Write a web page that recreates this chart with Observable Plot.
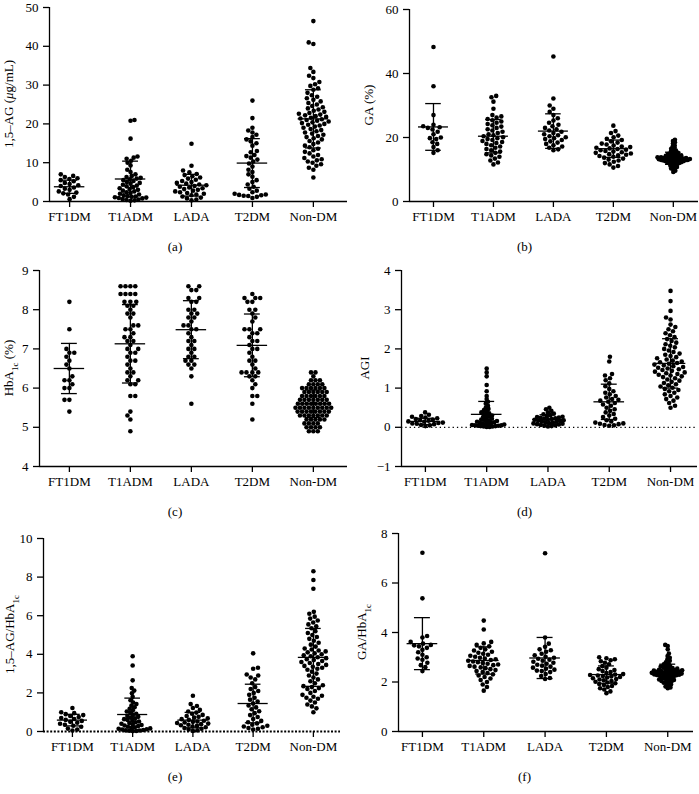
<!DOCTYPE html>
<html><head><meta charset="utf-8">
<script src="https://cdn.jsdelivr.net/npm/d3@7"></script>
<script src="https://cdn.jsdelivr.net/npm/@observablehq/plot@0.6"></script>
<style>
body{margin:0;background:#fff;font-family:"Liberation Serif",serif;color:#000;}
#grid{display:grid;grid-template-columns:350px 349px;grid-template-rows:265px 265px 264px;width:699px;}
.cell{position:relative;}
.cell svg{display:block;overflow:visible;}
.cell svg text{font-size:13px !important;font-family:"Liberation Serif",serif;}
.cap{position:absolute;top:238px;left:0;width:100%;text-align:center;font-size:13px;line-height:18px;}
</style></head><body><div id="grid"></div>
<script>
const groups = ["FT1DM", "T1ADM", "LADA", "T2DM", "Non-DM"];

// (a) 1,5-AG (µg/mL)
const ag = [
  [7.0, 6.6, 6.3, 6.0, 5.8, 5.5, 5.2, 4.8, 4.5, 4.2, 4.0, 3.6, 3.3, 3.0, 2.6, 2.3, 2.1, 1.8, 1.2, 0.6],
  [21.0, 20.8, 16.2, 11.6, 11.3, 11.0, 10.5, 10.0, 9.3, 8.2, 7.6, 7.0, 6.6, 6.3, 6.1, 5.9, 5.7, 5.5, 5.3, 5.0, 4.8, 4.6, 4.3, 4.1, 3.9, 3.7, 3.4, 3.2, 3.0, 2.8, 2.6, 2.4, 2.2, 2.0, 1.8, 1.6, 1.4, 1.3, 1.2, 1.1, 1.0, 0.9, 0.8, 0.6, 0.5, 0.4, 0.3, 0.2],
  [14.9, 9.2, 8.0, 7.5, 7.1, 6.8, 6.5, 6.2, 5.9, 5.6, 5.3, 5.0, 4.8, 4.6, 4.4, 4.2, 4.0, 3.8, 3.6, 3.4, 3.2, 3.0, 2.8, 2.6, 2.4, 2.2, 2.0, 1.8, 1.6, 1.3, 1.0, 0.8, 0.5, 0.3],
  [26.0, 21.5, 19.0, 18.3, 17.8, 17.2, 16.6, 16.0, 15.5, 15.0, 14.4, 13.0, 12.7, 12.0, 11.7, 11.3, 10.8, 10.3, 9.8, 9.0, 8.2, 7.6, 7.0, 6.4, 5.5, 5.0, 4.4, 3.8, 3.3, 2.8, 2.4, 2.0, 1.8, 1.7, 1.6, 1.5, 1.4, 1.2, 0.9],
  [46.5, 41.0, 40.6, 34.4, 33.4, 32.4, 31.8, 30.8, 30.2, 29.8, 29.2, 28.8, 28.0, 27.4, 27.0, 26.6, 26.2, 25.8, 25.4, 25.0, 24.6, 24.3, 24.0, 23.7, 23.4, 23.1, 22.8, 22.6, 22.4, 22.2, 22.0, 21.8, 21.6, 21.4, 21.2, 21.0, 20.8, 20.6, 20.4, 20.2, 20.0, 19.8, 19.6, 19.3, 19.0, 18.7, 18.4, 18.1, 17.8, 17.5, 17.2, 16.9, 16.6, 16.3, 16.0, 15.6, 15.2, 14.8, 14.4, 14.0, 13.6, 13.2, 12.8, 12.4, 12.0, 11.6, 11.2, 10.9, 10.6, 10.3, 10.0, 9.6, 9.2, 8.7, 8.2, 6.2]
];
const agMean = [3.8, 5.8, 4.2, 9.9, 21.3];
const agSd = [1.7, 4.6, 2.8, 6.3, 7.5];

// (b) GA (%)
const ga = [
  [48.3, 36.0, 27.0, 24.0, 23.5, 23.2, 23.0, 22.5, 21.8, 21.0, 20.0, 19.8, 19.5, 18.5, 18.0, 17.0, 16.0, 15.2],
  [33.0, 32.6, 31.2, 29.0, 27.0, 26.6, 26.2, 25.8, 25.4, 25.0, 24.6, 24.2, 23.8, 23.4, 23.0, 22.6, 22.2, 21.8, 21.4, 21.0, 20.7, 20.4, 20.1, 19.8, 19.5, 19.2, 18.9, 18.6, 18.3, 18.0, 17.6, 17.2, 16.8, 16.4, 16.0, 15.6, 15.2, 14.8, 14.4, 14.0, 13.4, 12.8, 12.2, 11.6],
  [45.3, 32.2, 30.0, 29.0, 28.0, 27.0, 26.0, 25.3, 24.6, 24.0, 23.5, 23.0, 22.6, 22.2, 21.8, 21.4, 21.0, 20.7, 20.4, 20.1, 19.8, 19.5, 19.2, 18.8, 18.4, 18.0, 17.6, 17.2, 16.8, 16.3, 16.0],
  [23.7, 22.0, 21.4, 20.6, 20.1, 19.6, 19.2, 18.8, 18.4, 18.1, 17.8, 17.5, 17.2, 17.0, 16.8, 16.6, 16.4, 16.2, 16.0, 15.8, 15.6, 15.4, 15.2, 15.0, 14.8, 14.6, 14.4, 14.2, 14.0, 13.7, 13.4, 13.1, 12.8, 12.4, 12.0, 11.6, 11.1, 10.6],
  [19.3, 18.9, 18.5, 18.1, 17.6, 17.2, 16.8, 16.5, 16.2, 15.9, 15.6, 15.4, 15.2, 15.0, 14.8, 14.7, 14.6, 14.5, 14.4, 14.3, 14.2, 14.1, 14.0, 13.9, 13.8, 13.8, 13.7, 13.6, 13.6, 13.5, 13.5, 13.4, 13.4, 13.3, 13.3, 13.2, 13.2, 13.1, 13.1, 13.0, 13.0, 12.9, 12.9, 12.8, 12.8, 12.7, 12.6, 12.6, 12.5, 12.4, 12.3, 12.2, 12.1, 12.0, 11.9, 11.8, 11.6, 11.4, 11.2, 11.0, 10.8, 10.6, 10.3, 10.0, 9.6, 9.2]
];
const gaMean = [23.3, 20.4, 22.0, 16.5, 13.5];
const gaSd = [7.3, 5.2, 5.4, 2.7, 1.9];

// (c) HbA1c (%)
const hba = [
  [8.2, 7.5, 7.0, 6.9, 6.9, 6.8, 6.7, 6.6, 6.5, 6.3, 6.2, 6.2, 6.1, 6.0, 6.0, 5.7, 5.7, 5.4],
  [8.6, 8.6, 8.6, 8.6, 8.4, 8.4, 8.4, 8.4, 8.2, 8.2, 8.2, 8.1, 8.1, 8.0, 7.9, 7.9, 7.8, 7.6, 7.6, 7.5, 7.5, 7.4, 7.3, 7.3, 7.2, 7.2, 7.1, 7.0, 7.0, 6.9, 6.9, 6.8, 6.7, 6.7, 6.6, 6.5, 6.4, 6.4, 6.3, 6.2, 6.2, 6.1, 6.1, 5.8, 5.8, 5.4, 5.3, 5.2, 4.9],
  [8.6, 8.6, 8.5, 8.5, 8.3, 8.3, 8.2, 8.2, 8.0, 8.0, 7.9, 7.9, 7.8, 7.8, 7.7, 7.6, 7.6, 7.5, 7.5, 7.4, 7.3, 7.2, 7.2, 7.1, 7.0, 7.0, 6.9, 6.8, 6.8, 6.7, 6.7, 6.6, 6.6, 6.5, 6.3, 5.6],
  [8.4, 8.3, 8.3, 8.3, 8.2, 8.2, 8.0, 8.0, 7.9, 7.8, 7.7, 7.5, 7.5, 7.5, 7.4, 7.4, 7.3, 7.2, 7.2, 7.1, 7.0, 7.0, 6.9, 6.8, 6.7, 6.7, 6.6, 6.5, 6.4, 6.4, 6.4, 6.4, 6.3, 6.3, 6.2, 6.1, 6.0, 5.8, 5.8, 5.6, 5.2],
  [6.4, 6.4, 6.3, 6.2, 6.2, 6.2, 6.1, 6.1, 6.1, 6.1, 6.0, 6.0, 6.0, 6.0, 6.0, 6.0, 5.9, 5.9, 5.9, 5.9, 5.9, 5.9, 5.8, 5.8, 5.8, 5.8, 5.8, 5.8, 5.7, 5.7, 5.7, 5.7, 5.7, 5.7, 5.7, 5.6, 5.6, 5.6, 5.6, 5.6, 5.6, 5.6, 5.6, 5.5, 5.5, 5.5, 5.5, 5.5, 5.5, 5.5, 5.5, 5.5, 5.4, 5.4, 5.4, 5.4, 5.4, 5.4, 5.4, 5.4, 5.3, 5.3, 5.3, 5.3, 5.3, 5.3, 5.3, 5.2, 5.2, 5.2, 5.2, 5.2, 5.1, 5.1, 5.1, 5.1, 5.0, 5.0, 5.0, 5.0, 4.9, 4.9, 4.9]
];
const hbaMean = [6.5, 7.13, 7.49, 7.09, 5.6];
const hbaSd = [0.64, 1.0, 0.74, 0.8, 0.35];

// (d) AGI
const agi = [
  [0.38, 0.32, 0.29, 0.27, 0.25, 0.23, 0.21, 0.2, 0.18, 0.17, 0.15, 0.14, 0.12, 0.11, 0.1, 0.09, 0.08, 0.06, 0.05, 0.03],
  [1.5, 1.4, 1.3, 1.08, 0.92, 0.8, 0.72, 0.65, 0.6, 0.55, 0.5, 0.47, 0.44, 0.41, 0.38, 0.36, 0.34, 0.32, 0.3, 0.28, 0.26, 0.24, 0.22, 0.2, 0.19, 0.18, 0.16, 0.15, 0.14, 0.13, 0.12, 0.11, 0.1, 0.09, 0.08, 0.07, 0.06, 0.05, 0.05, 0.04, 0.04, 0.03, 0.03, 0.02, 0.02, 0.01, 0.01],
  [0.5, 0.46, 0.42, 0.38, 0.35, 0.33, 0.31, 0.29, 0.27, 0.26, 0.25, 0.24, 0.23, 0.22, 0.21, 0.2, 0.19, 0.18, 0.17, 0.16, 0.15, 0.14, 0.13, 0.12, 0.11, 0.1, 0.09, 0.08, 0.07, 0.06, 0.05, 0.04, 0.03, 0.02],
  [1.8, 1.68, 1.36, 1.32, 1.25, 1.2, 1.12, 1.05, 0.98, 0.92, 0.88, 0.84, 0.8, 0.76, 0.72, 0.7, 0.68, 0.65, 0.62, 0.58, 0.55, 0.5, 0.46, 0.42, 0.38, 0.34, 0.3, 0.26, 0.22, 0.18, 0.15, 0.12, 0.1, 0.09, 0.08, 0.06, 0.05, 0.04],
  [3.48, 3.22, 2.97, 2.8, 2.75, 2.62, 2.56, 2.5, 2.45, 2.4, 2.35, 2.3, 2.25, 2.2, 2.16, 2.12, 2.08, 2.04, 2.0, 1.96, 1.92, 1.88, 1.85, 1.82, 1.79, 1.76, 1.73, 1.7, 1.68, 1.66, 1.64, 1.62, 1.6, 1.58, 1.56, 1.54, 1.52, 1.5, 1.48, 1.46, 1.44, 1.42, 1.4, 1.38, 1.36, 1.34, 1.32, 1.3, 1.28, 1.25, 1.22, 1.19, 1.16, 1.13, 1.1, 1.07, 1.04, 1.01, 0.98, 0.95, 0.92, 0.88, 0.84, 0.8, 0.76, 0.72, 0.68, 0.62, 0.55, 0.5]
];
const agiMean = [0.15, 0.33, 0.2, 0.65, 1.63];
const agiSd = [0.08, 0.33, 0.12, 0.45, 0.63];

// (e) 1,5-AG/HbA1c
const agHba = [
  [1.22, 1.0, 0.95, 0.9, 0.85, 0.8, 0.75, 0.7, 0.65, 0.6, 0.55, 0.5, 0.45, 0.4, 0.35, 0.3, 0.25, 0.15, 0.1, 0.05],
  [3.9, 3.42, 2.65, 2.25, 2.12, 1.98, 1.8, 1.62, 1.5, 1.42, 1.34, 1.26, 1.18, 1.1, 1.04, 0.98, 0.92, 0.86, 0.8, 0.76, 0.72, 0.68, 0.64, 0.6, 0.56, 0.52, 0.48, 0.44, 0.4, 0.37, 0.34, 0.31, 0.28, 0.25, 0.22, 0.19, 0.16, 0.14, 0.12, 0.1, 0.08, 0.06, 0.05, 0.04, 0.03, 0.02],
  [1.85, 1.42, 1.32, 1.22, 1.12, 1.04, 0.98, 0.92, 0.86, 0.8, 0.76, 0.72, 0.68, 0.64, 0.6, 0.56, 0.52, 0.5, 0.47, 0.44, 0.41, 0.38, 0.35, 0.32, 0.29, 0.26, 0.22, 0.18, 0.14, 0.1, 0.06, 0.03],
  [4.05, 3.3, 3.25, 2.95, 2.9, 2.8, 2.7, 2.5, 2.3, 2.2, 2.1, 2.0, 1.9, 1.75, 1.65, 1.55, 1.45, 1.35, 1.25, 1.15, 1.05, 0.95, 0.85, 0.75, 0.65, 0.55, 0.48, 0.42, 0.35, 0.3, 0.26, 0.22, 0.18, 0.14, 0.1],
  [8.3, 7.85, 7.4, 6.2, 6.1, 5.95, 5.85, 5.75, 5.65, 5.55, 5.45, 5.35, 5.2, 5.1, 5.0, 4.9, 4.8, 4.7, 4.6, 4.5, 4.4, 4.3, 4.25, 4.2, 4.15, 4.1, 4.05, 4.0, 3.95, 3.9, 3.85, 3.8, 3.75, 3.7, 3.65, 3.6, 3.55, 3.5, 3.45, 3.4, 3.35, 3.3, 3.25, 3.2, 3.1, 3.0, 2.9, 2.8, 2.7, 2.6, 2.5, 2.4, 2.35, 2.3, 2.25, 2.2, 2.1, 2.0, 1.9, 1.85, 1.8, 1.75, 1.7, 1.6, 1.5, 1.4, 1.3, 1.2, 1.0]
];
const agHbaMean = [0.59, 0.88, 0.59, 1.45, 3.84];
const agHbaSd = [0.3, 0.85, 0.4, 1.0, 1.5];

// (f) GA/HbA1c
const gaHba = [
  [7.22, 5.38, 3.86, 3.8, 3.62, 3.55, 3.5, 3.48, 3.44, 3.38, 3.3, 3.2, 3.1, 3.0, 2.95, 2.9, 2.78, 2.68, 2.6, 2.44],
  [4.48, 4.12, 3.62, 3.56, 3.5, 3.44, 3.38, 3.32, 3.27, 3.22, 3.18, 3.14, 3.1, 3.06, 3.02, 2.98, 2.95, 2.92, 2.89, 2.86, 2.83, 2.8, 2.77, 2.74, 2.71, 2.68, 2.65, 2.62, 2.59, 2.56, 2.52, 2.48, 2.44, 2.4, 2.36, 2.31, 2.26, 2.2, 2.14, 2.08, 2.0, 1.9, 1.8, 1.65],
  [7.2, 3.8, 3.55, 3.42, 3.32, 3.28, 3.22, 3.14, 3.08, 3.02, 2.98, 2.94, 2.9, 2.86, 2.82, 2.78, 2.74, 2.7, 2.66, 2.62, 2.58, 2.54, 2.5, 2.46, 2.44, 2.4, 2.32, 2.24, 2.16, 2.12],
  [3.0, 2.96, 2.92, 2.88, 2.84, 2.78, 2.72, 2.64, 2.58, 2.52, 2.48, 2.44, 2.4, 2.36, 2.32, 2.3, 2.28, 2.26, 2.24, 2.22, 2.2, 2.18, 2.15, 2.12, 2.1, 2.07, 2.04, 2.01, 1.98, 1.95, 1.92, 1.88, 1.84, 1.8, 1.75, 1.7, 1.62, 1.55],
  [3.5, 3.45, 3.32, 3.15, 3.05, 2.98, 2.92, 2.86, 2.8, 2.76, 2.72, 2.68, 2.65, 2.62, 2.6, 2.58, 2.56, 2.54, 2.52, 2.5, 2.49, 2.48, 2.47, 2.46, 2.45, 2.44, 2.43, 2.42, 2.41, 2.4, 2.39, 2.38, 2.37, 2.36, 2.35, 2.34, 2.33, 2.32, 2.31, 2.3, 2.29, 2.28, 2.27, 2.26, 2.25, 2.24, 2.22, 2.2, 2.18, 2.16, 2.14, 2.12, 2.1, 2.08, 2.06, 2.04, 2.02, 2.0, 1.97, 1.94, 1.9, 1.86, 1.82, 1.78, 1.75]
];
const gaHbaMean = [3.55, 2.87, 2.97, 2.3, 2.42];
const gaHbaSd = [1.05, 0.55, 0.83, 0.35, 0.3];

const yLabelHtml = [
  '1,5–AG (<tspan font-style="italic">μ</tspan>g/mL)',
  'GA (%)',
  'HbA<tspan baseline-shift="sub" font-size="9">1c</tspan> (%)',
  'AGI',
  '1,5–AG/HbA<tspan baseline-shift="sub" font-size="9">1c</tspan>',
  'GA/HbA<tspan baseline-shift="sub" font-size="9">1c</tspan>'
];
const yTicks = [[0,10,20,30,40,50],[0,20,40,60],[4,5,6,7,8,9],[-1,0,1,2,3,4],[0,2,4,6,8,10],[0,2,4,6,8]];
const captions = ["(a)", "(b)", "(c)", "(d)", "(e)", "(f)"];

const panels = [
  {values: ag, mean: agMean, sd: agSd, width: 350, ml: 49, mr: 3, mt: 7, xd: [-0.33, 4.56], labelLeft: 3},
  {values: ga, mean: gaMean, sd: gaSd, width: 349, ml: 59, mr: 1, mt: 9, xd: [-0.4, 4.42], labelLeft: 13},
  {values: hba, mean: hbaMean, sd: hbaSd, width: 350, ml: 39, mr: 3, mt: 5, xd: [-0.49, 4.56], labelLeft: 3},
  {values: agi, mean: agiMean, sd: agiSd, width: 349, ml: 51, mr: 2, mt: 5, xd: [-0.39, 4.44], labelLeft: 9, zeroLine: true},
  {values: agHba, mean: agHbaMean, sd: agHbaSd, width: 350, ml: 43, mr: 10, mt: 8, xd: [-0.48, 4.45], labelLeft: 4, dottedBase: true},
  {values: gaHba, mean: gaHbaMean, sd: gaHbaSd, width: 349, ml: 48, mr: 6, mt: 3, xd: [-0.39, 4.42], labelLeft: 6}
];

const R = 2.3, BOTTOM = 201, HEIGHT = 232, MAXHALF = 18;

function swarm(vals, ky, sep) {
  const order = d3.range(vals.length).sort((a, b) => vals[a] - vals[b]);
  const placed = [], out = new Array(vals.length);
  let flip = 1;
  for (const i of order) {
    const y = vals[i] * ky;
    const cands = [0];
    for (const p of placed) {
      const dy = Math.abs(p.y - y);
      if (dy < sep) { const dx = Math.sqrt(sep * sep - dy * dy); cands.push(p.x + dx + 0.01, p.x - dx - 0.01); }
    }
    cands.sort((a, b) => (Math.abs(a) - Math.abs(b)) || (flip * (a - b)));
    for (const c of cands) {
      if (placed.every(p => (p.x - c) ** 2 + (p.y - y) ** 2 >= sep * sep - 1e-6)) { out[i] = c; break; }
    }
    flip = -flip;
    placed.push({x: out[i], y});
  }
  return out;
}
function swarmFit(vals, ky) {
  let sep = 4.9, off;
  while (true) {
    off = swarm(vals, ky, sep);
    if (d3.max(off, Math.abs) <= MAXHALF || sep <= 2) return off;
    sep -= 0.15;
  }
}

const SVGNS = "http://www.w3.org/2000/svg";
const grid = document.getElementById("grid");
panels.forEach((p, k) => {
  const ticks = yTicks[k];
  const yd = [ticks[0], ticks[ticks.length - 1]];
  const plotW = p.width - p.ml - p.mr;
  const kx = plotW / (p.xd[1] - p.xd[0]);
  const ky = (BOTTOM - p.mt) / (yd[1] - yd[0]);
  const pts = [];
  p.values.forEach((vals, g) => {
    const off = swarmFit(vals, ky);
    vals.forEach((v, j) => pts.push({g, v, x: g + off[j] / kx}));
  });
  const stats = groups.map((name, i) => ({i, mean: p.mean[i], lo: p.mean[i] - p.sd[i], hi: p.mean[i] + p.sd[i]}));
  const marks = [];
  if (p.zeroLine) marks.push(Plot.ruleY([0], {stroke: "black", strokeWidth: 1.2, strokeDasharray: "1.3,3"}));
  marks.push(
    Plot.dot(pts, {x: "x", y: "v", r: R, fill: "black", stroke: "none"}),
    Plot.ruleY(stats, {y: "mean", x1: d => d.i - 0.25, x2: d => d.i + 0.25, stroke: "black", strokeWidth: 1.3}),
    Plot.ruleY(stats, {y: "lo", x1: d => d.i - 0.13, x2: d => d.i + 0.13, stroke: "black", strokeWidth: 1.3}),
    Plot.ruleY(stats, {y: "hi", x1: d => d.i - 0.13, x2: d => d.i + 0.13, stroke: "black", strokeWidth: 1.3}),
    Plot.ruleX(stats, {x: "i", y1: "lo", y2: "hi", stroke: "black", strokeWidth: 1.3}),
    Plot.ruleX([p.xd[0]], {stroke: "black", strokeWidth: 1.3}),
    p.dottedBase
      ? Plot.ruleY([yd[0]], {stroke: "black", strokeWidth: 1.8, strokeDasharray: "2,1.6"})
      : Plot.ruleY([yd[0]], {stroke: "black", strokeWidth: 1.3}),
    Plot.axisY(ticks, {anchor: "left", tickSize: 6, tickPadding: 5, strokeWidth: 1.3, fontSize: 13, label: null}),
    Plot.axisX([0, 1, 2, 3, 4], {anchor: "bottom", tickSize: 6, tickPadding: 4, strokeWidth: 1.3, fontSize: 13,
      tickFormat: i => groups[i], label: null})
  );
  const svg = Plot.plot({
    width: p.width, height: HEIGHT,
    marginLeft: p.ml, marginRight: p.mr, marginTop: p.mt, marginBottom: HEIGHT - BOTTOM,
    style: {fontFamily: "'Liberation Serif', serif", fontSize: "13px", color: "black", background: "white", overflow: "visible"},
    x: {type: "linear", domain: p.xd},
    y: {domain: yd},
    marks
  });
  // y-axis title (with italic / subscript parts as tspans)
  const t = document.createElementNS(SVGNS, "text");
  t.setAttribute("transform", `translate(${p.labelLeft + 10},${(p.mt + BOTTOM) / 2}) rotate(-90)`);
  t.setAttribute("text-anchor", "middle");
  t.setAttribute("fill", "black");
  t.innerHTML = yLabelHtml[k];
  svg.appendChild(t);
  const cell = document.createElement("div");
  cell.className = "cell";
  cell.appendChild(svg);
  const cap = document.createElement("div");
  cap.className = "cap";
  cap.textContent = captions[k];
  cell.appendChild(cap);
  grid.appendChild(cell);
});
</script></body></html>
